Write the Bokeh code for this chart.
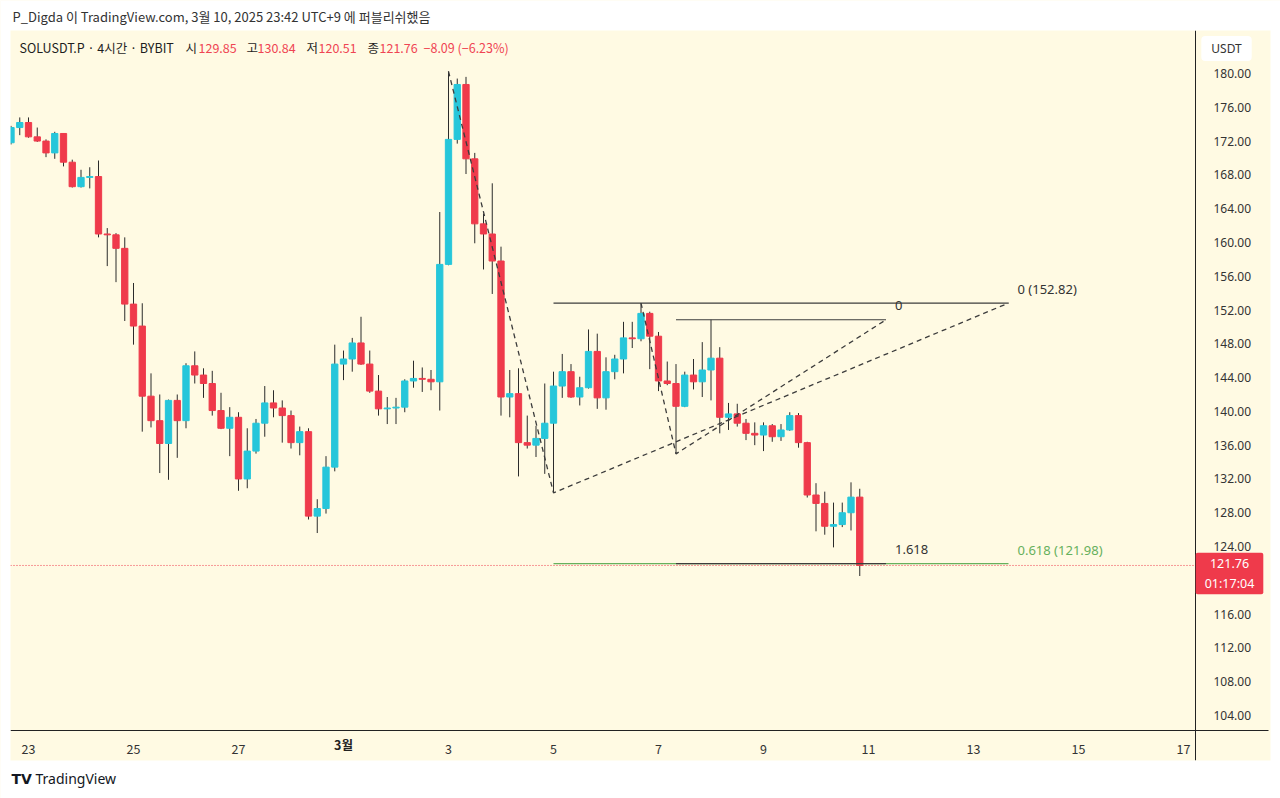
from bokeh.plotting import figure
from bokeh.models import (Label, Range1d, FixedTicker, ColumnDataSource, NumeralTickFormatter,
                          BoxAnnotation)
from bokeh.embed import file_html
from bokeh.resources import INLINE

# ---------------- data (SOLUSDT.P, 4h bars, KST) ----------------
opens = [171.8, 173.6, 174.2, 172.5, 172.0, 170.6, 172.9, 169.5, 166.6, 167.7,
         167.8, 161.0, 160.9, 159.3, 152.7, 150.1, 141.8, 138.9, 136.2, 141.3,
         138.9, 145.4, 144.3, 143.3, 140.1, 138.0, 139.3, 132.0, 135.3, 138.6,
         141.0, 140.4, 139.5, 136.3, 137.6, 127.6, 128.5, 133.4, 145.6, 146.2,
         148.1, 145.6, 142.4, 140.3, 140.4, 140.5, 143.6, 143.9, 143.8, 143.5,
         157.4, 172.2, 178.7, 169.9, 162.2, 161.0, 157.8, 141.7, 142.1, 136.3,
         136.0, 136.8, 138.6, 143.0, 144.7, 141.7, 142.8, 147.1, 141.6, 144.7,
         146.2, 148.7, 148.6, 151.6, 148.9, 143.6, 143.3, 140.6, 144.3, 143.5,
         144.9, 146.3, 139.3, 139.7, 138.6, 137.4, 137.2, 138.3, 137.0, 137.8,
         139.5, 136.3, 130.1, 129.1, 126.4, 126.6, 128.0, 129.85]
highs = [173.8, 174.8, 174.8, 173.6, 172.2, 173.1, 172.9, 169.8, 168.6, 168.9,
         169.7, 161.7, 161.1, 160.6, 155.2, 152.8, 144.5, 142.0, 141.4, 142.0,
         145.7, 147.1, 145.1, 144.8, 142.2, 140.5, 139.9, 138.0, 139.1, 143.0,
         142.5, 141.3, 140.1, 138.2, 138.0, 129.6, 134.7, 147.9, 147.2, 148.7,
         151.2, 147.2, 144.3, 141.7, 141.6, 143.8, 146.0, 145.2, 144.9, 163.6,
         180.25, 179.4, 179.6, 170.6, 163.4, 167.0, 159.5, 144.9, 145.1, 139.5,
         138.3, 143.3, 144.7, 146.8, 145.6, 144.1, 149.7, 149.2, 146.4, 146.7,
         150.6, 150.6, 152.82, 151.8, 149.4, 145.9, 145.6, 144.7, 146.2, 148.2,
         150.85, 147.6, 141.0, 140.9, 139.1, 138.7, 138.7, 138.5, 138.5, 139.9,
         139.8, 136.4, 131.5, 130.5, 129.2, 129.2, 131.6, 130.84]
lows = [171.6, 172.7, 172.4, 171.9, 170.1, 169.9, 169.0, 166.5, 166.5, 166.4,
        160.6, 157.2, 155.3, 150.7, 147.9, 137.6, 138.1, 132.7, 131.9, 134.5,
        138.0, 143.3, 141.6, 139.5, 137.9, 134.7, 130.6, 130.9, 135.0, 137.0,
        139.3, 136.3, 135.6, 134.8, 127.2, 125.6, 127.9, 132.9, 143.7, 144.7,
        145.5, 142.2, 139.5, 138.5, 138.5, 139.9, 142.8, 142.3, 142.5, 140.1,
        157.3, 171.7, 168.1, 159.9, 156.8, 153.9, 139.5, 139.3, 132.3, 135.6,
        134.6, 132.6, 130.35, 141.6, 141.6, 140.7, 142.7, 140.3, 140.2, 143.8,
        144.5, 147.5, 148.3, 145.0, 142.4, 143.1, 134.97, 140.5, 142.6, 141.7,
        141.3, 137.4, 137.8, 138.2, 136.6, 136.0, 135.3, 136.4, 136.5, 137.7,
        135.7, 129.8, 125.8, 125.4, 123.9, 126.3, 125.9, 120.51]
closes = [173.6, 174.2, 172.5, 172.0, 170.6, 172.9, 169.5, 166.6, 167.7, 167.8,
          161.0, 160.9, 159.3, 152.7, 150.1, 141.8, 138.9, 136.2, 141.3, 138.9,
          145.4, 144.3, 143.3, 140.1, 138.0, 139.3, 132.0, 135.3, 138.6, 141.0,
          140.4, 139.5, 136.3, 137.6, 127.6, 128.5, 133.4, 145.6, 146.2, 148.1,
          145.6, 142.4, 140.3, 140.4, 140.5, 143.6, 143.9, 143.8, 143.5, 157.4,
          172.2, 178.7, 169.9, 162.2, 161.0, 157.8, 141.7, 142.1, 136.3, 136.0,
          136.8, 138.6, 143.0, 144.7, 141.7, 142.8, 147.1, 141.6, 144.7, 146.2,
          148.7, 148.6, 151.6, 148.9, 143.6, 143.3, 140.6, 144.3, 143.5, 144.9,
          146.3, 139.3, 139.7, 138.6, 137.4, 137.2, 138.3, 137.0, 137.8, 139.5,
          136.3, 130.1, 129.1, 126.4, 126.6, 128.0, 129.85, 121.76]

bar_hours = 4
first_bar_offset_hours = -8          # first bar: Feb 22 17:00, relative to Feb 23 01:00 KST

day_ticks = [0, 2, 4, 6, 8, 10, 12, 14, 16, 18, 20, 22]
day_labels = ["23", "25", "27", "3월", "3", "5", "7", "9", "11", "13", "15", "17"]
price_ticks = list(range(104, 181, 4))

# Fib tools: anchor bar indices (P1, P2, P3)
fib1_bars = [50, 62, 114]
fib1_ratios = [0, 0.618]
fib2_bars = [72, 76, 100]
fib2_ratios = [0, 1.618]

# ---------------- styling ----------------
BG = "#FFFAE3"
UP = "#26C6DA"
DOWN = "#EF3A4B"
WICK = "#2b2b2b"
DARK = "#333333"
RED_TXT = "#EF4452"
GREEN = "#66B05C"
LINE = "#3c3c3c"
FONT = "Noto Sans"
KFONT = "Noto Sans CJK KR"


def dx(px):   # page pixel -> data x (days from Feb 23 01:00)
    return (px - 28) / 52.5


def dy(py):   # page pixel -> price
    return 180 - (py - 73) / 8.447


def bar_x(i):
    return (first_bar_offset_hours + bar_hours * i) / 24.0


n = len(opens)
xs = [bar_x(i) for i in range(n)]
colors = [UP if c >= o else DOWN for o, c in zip(opens, closes)]
src = ColumnDataSource(dict(
    x=xs,
    top=[max(o, c) for o, c in zip(opens, closes)],
    bottom=[min(o, c) for o, c in zip(opens, closes)],
    high=highs, low=lows, color=colors))

p = figure(width=1280, height=798,
           x_range=Range1d(dx(0), dx(1280)), y_range=Range1d(dy(798), dy(0)),
           y_axis_location="right", toolbar_location=None, output_backend="svg",
           title=None, min_border=0, min_border_left=0, min_border_right=0,
           min_border_top=0, min_border_bottom=0,
           background_fill_color=BG, border_fill_color="white",
           outline_line_color=None)
p.grid.visible = False

# white page margins around the chart panel
for kw in (dict(bottom=dy(30)), dict(top=dy(760)), dict(right=dx(10)), dict(left=dx(1270))):
    p.add_layout(BoxAnnotation(fill_color="white", fill_alpha=1, line_color=None, **kw))

# axes (drawn at fixed positions inside the panel)
p.yaxis.fixed_location = dx(1195)
p.yaxis.bounds = (dy(760), dy(30))
p.yaxis.ticker = FixedTicker(ticks=price_ticks)
p.yaxis.formatter = NumeralTickFormatter(format="0.00")
p.yaxis.major_tick_line_color = None
p.yaxis.minor_tick_line_color = None
p.yaxis.axis_line_color = "#222222"
p.yaxis.major_label_standoff = 12
p.yaxis.major_label_text_font = FONT
p.yaxis.major_label_text_font_size = "12px"
p.yaxis.major_label_text_color = DARK

p.xaxis.fixed_location = dy(730)
p.xaxis.bounds = (dx(10), dx(1268))
p.xaxis.ticker = FixedTicker(ticks=day_ticks)
p.xaxis.major_label_overrides = {t: ("" if l == "3월" else l) for t, l in zip(day_ticks, day_labels)}
p.xaxis.major_tick_line_color = None
p.xaxis.minor_tick_line_color = None
p.xaxis.axis_line_color = "#222222"
p.xaxis.major_label_standoff = 7
p.xaxis.major_label_text_font = KFONT
p.xaxis.major_label_text_font_size = "12.5px"
p.xaxis.major_label_text_color = DARK

for t, l in zip(day_ticks, day_labels):
    if l == "3월":
        p.add_layout(Label(x=t, y=dy(744), text=l, text_align="center", text_baseline="middle",
                           text_font=KFONT, text_font_size="12.5px", text_font_style="bold",
                           text_color="#222222"))

# candles
p.segment(x0="x", y0="low", x1="x", y1="high", source=src, line_color=WICK, line_width=1)
p.vbar(x="x", width=0.72 * bar_hours / 24, top="top", bottom="bottom",
       fill_color="color", line_color="color", line_width=1, source=src)

# fib tools (trend-based extensions)
f1x = [bar_x(b) for b in fib1_bars]
f1p = [highs[fib1_bars[0]], lows[fib1_bars[1]], highs[72]]
f2x = [bar_x(b) for b in fib2_bars]
f2p = [highs[fib2_bars[0]], lows[fib2_bars[1]], highs[80]]

f1_levels = [f1p[2] + r * (f1p[1] - f1p[0]) for r in fib1_ratios]
f2_levels = [f2p[2] + r * (f2p[1] - f2p[0]) for r in fib2_ratios]

p.segment(x0=[f1x[1]] * 2, x1=[f1x[2]] * 2, y0=f1_levels, y1=f1_levels,
          line_color=[LINE, GREEN], line_width=1.2)
p.segment(x0=[f2x[1]] * 2, x1=[f2x[2]] * 2, y0=f2_levels, y1=f2_levels,
          line_color=[LINE, LINE], line_width=1.2)
p.line(f1x, f1p, line_color=LINE, line_width=1.3, line_dash="5 4")
p.line(f2x, f2p, line_color=LINE, line_width=1.3, line_dash="5 4")

lab_dy = 14 / 8.447
lab_dx = 9 / 52.5
for r, lv, col in zip(fib1_ratios, f1_levels, [DARK, GREEN]):
    p.add_layout(Label(x=f1x[2] + lab_dx, y=lv + lab_dy, text=f"{r:g} ({lv:.2f})",
                       text_align="left", text_baseline="middle", text_font=FONT,
                       text_font_size="13px", text_color=col))
for r, lv in zip(fib2_ratios, f2_levels):
    p.add_layout(Label(x=f2x[2] + lab_dx, y=lv + lab_dy, text=f"{r:g}",
                       text_align="left", text_baseline="middle", text_font=FONT,
                       text_font_size="13px", text_color=DARK))

# current price line
p.segment(x0=[dx(10)], x1=[dx(1195)], y0=[closes[-1]], y1=[closes[-1]],
          line_color=DOWN, line_dash="1 2", line_width=1)

# legend row
leg_y = dy(47)
p.add_layout(Label(x=dx(19), y=leg_y, text="SOLUSDT.P · 4시간 · BYBIT", text_align="left",
                   text_baseline="middle", text_font=KFONT, text_font_size="12.5px",
                   text_color="#1e1e1e"))
chg = closes[-1] - closes[-2]
pct = chg / closes[-2] * 100
items = [(185, "시", 198, f"{opens[-1]:.2f}"), (246, "고", 257, f"{highs[-1]:.2f}"),
         (306, "저", 318, f"{lows[-1]:.2f}"), (367, "종", 379, f"{closes[-1]:.2f}")]
for kx, k, vx, v in items:
    p.add_layout(Label(x=dx(kx), y=leg_y, text=k, text_align="left", text_baseline="middle",
                       text_font=KFONT, text_font_size="12.5px", text_color="#1e1e1e"))
    p.add_layout(Label(x=dx(vx), y=leg_y, text=v, text_align="left", text_baseline="middle",
                       text_font=KFONT, text_font_size="12.5px", text_color=RED_TXT))
p.add_layout(Label(x=dx(423), y=leg_y,
                   text=f"{chg:.2f} ({pct:.2f}%)".replace("-", "−"),
                   text_align="left", text_baseline="middle", text_font=KFONT,
                   text_font_size="12.5px", text_color=RED_TXT))

# header / footer
p.add_layout(Label(x=dx(12), y=dy(16), text="P_Digda 이 TradingView.com, 3월 10, 2025 23:42 UTC+9 에 퍼블리쉬했음",
                   text_align="left", text_baseline="middle", text_font=KFONT,
                   text_font_size="13px", text_color=DARK))
p.add_layout(Label(x=dx(11), y=dy(778), text="TV", text_align="left", text_baseline="middle",
                   text_font="DejaVu Sans", text_font_size="14px",
                   text_font_style="bold", text_color="#131722"))
p.add_layout(Label(x=dx(35), y=dy(778), text="TradingView", text_align="left",
                   text_baseline="middle", text_font=FONT, text_font_size="14px",
                   text_color="#131722"))

# axis badges
p.add_layout(Label(x=dx(1226), y=dy(48), text="USDT", text_align="center", text_baseline="middle",
                   text_font=FONT, text_font_size="12px", text_color=DARK,
                   background_fill_color="white", padding=dict(left=10, right=10, top=4, bottom=4),
                   border_radius=4))
p.add_layout(Label(x=dx(1229), y=dy(573), text=f"{closes[-1]:.2f}\n01:17:04",
                   text_align="center", text_baseline="middle", text_font=FONT,
                   text_font_size="12.5px", text_color="white",
                   background_fill_color=DOWN, padding=dict(left=9, right=9, top=2, bottom=2),
                   border_radius=2))

open("out.html", "w").write(file_html(p, INLINE))
